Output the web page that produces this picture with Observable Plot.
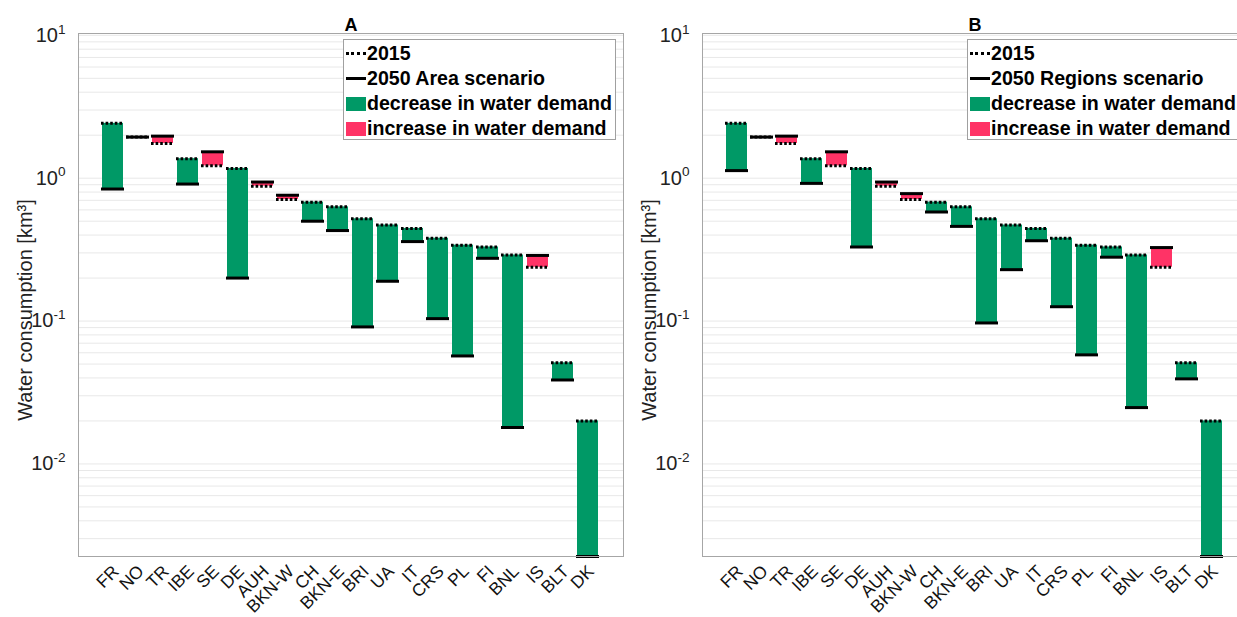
<!DOCTYPE html>
<html>
<head>
<meta charset="utf-8">
<script src="https://cdn.jsdelivr.net/npm/d3@7"></script>
<script src="https://cdn.jsdelivr.net/npm/@observablehq/plot@0.6"></script>
<style>
  html, body { margin: 0; padding: 0; background: #fff; }
  body { width: 1237px; height: 617px; overflow: hidden; position: relative;
         font-family: "Liberation Sans", Arial, sans-serif; }
  .panel { position: absolute; top: 0; width: 630px; height: 617px; }
  .legend { position: absolute; left: 343px; top: 39px; width: 271px; height: 98px;
            border: 1px solid #a0a0a0; background: #fff; padding-top: 1px; }
  .legend .row { display: flex; align-items: center; height: 25px;
                 font-weight: bold; font-size: 19.6px; color: #000; white-space: nowrap; }
  .legend .sym { display: inline-block; width: 20px; margin: 0 1px 0 2px; }
  .legend .dotted { border-top: 3px dotted #000; height: 0; }
  .legend .solid { border-top: 3px solid #000; height: 0; }
  .legend .swatch { height: 14px; }
</style>
</head>
<body>
<div id="panelA" class="panel" style="left:0px"></div>
<div id="panelB" class="panel" style="left:624px"></div>
<script>
// Regions, ordered by 2015 water consumption
const regions = ["FR", "NO", "TR", "IBE", "SE", "DE", "AUH", "BKN-W", "CH", "BKN-E",
                 "BRI", "UA", "IT", "CRS", "PL", "FI", "BNL", "IS", "BLT", "DK"];

// Water consumption [km³]
const demand2015 = [2.42, 1.94, 1.75, 1.37, 1.22, 1.17, 0.88, 0.71, 0.68, 0.63,
                    0.52, 0.47, 0.445, 0.38, 0.34, 0.33, 0.29, 0.238, 0.051, 0.020];
const area2050 = [0.84, 1.94, 1.97, 0.91, 1.53, 0.20, 0.94, 0.76, 0.50, 0.43,
                  0.091, 0.19, 0.36, 0.104, 0.057, 0.275, 0.018, 0.288, 0.0387, 0.00225];
const regions2050 = [1.13, 1.94, 1.97, 0.92, 1.53, 0.33, 0.94, 0.78, 0.58, 0.46,
                     0.097, 0.229, 0.365, 0.126, 0.058, 0.28, 0.0248, 0.327, 0.0394, 0.00225];

// Labelled decades on the log axis
const yTicks = [0.01, 0.1, 1, 10];
const yDomain = [0.00225, 10.3];

const changeKinds = ["decrease", "increase"];
const changeColors = ["#009966", "#ff3366"];
const legendLabels = ["decrease in water demand", "increase in water demand"];

function drawPanel(target, title, scenarioLabel, values) {
  const rows = regions.map((region, i) => ({
    region,
    y2015: demand2015[i],
    y2050: values[i],
    change: values[i] > demand2015[i] ? "increase" : "decrease"
  }));

  const chart = Plot.plot({
    width: 630,
    height: 617,
    marginLeft: 78,
    marginRight: 7,
    marginTop: 33,
    marginBottom: 61,
    style: { fontFamily: "Liberation Sans, Arial, sans-serif", background: "transparent", overflow: "visible", color: "#000" },
    x: { domain: regions, paddingInner: 0.15, paddingOuter: 0.6, label: null, axis: null },
    y: { type: "log", domain: yDomain, label: null },
    color: { domain: changeKinds, range: changeColors },
    marks: [
      Plot.gridY({ ticks: 40, stroke: "#e8e8e8", strokeOpacity: 1 }),
      Plot.barY(rows, { x: "region", y1: "y2015", y2: "y2050", fill: "change" }),
      Plot.tickY(rows, { x: "region", y: "y2050", stroke: "#000", strokeWidth: 3, inset: -1 }),
      Plot.tickY(rows, { x: "region", y: "y2015", stroke: "#000", strokeWidth: 3, strokeDasharray: "2.6,2", inset: -1 }),
      Plot.frame({ stroke: "#a6a6a6" }),
      // Region names, slanted under each bar
      Plot.text(regions, {
        x: d => d, text: d => d, frameAnchor: "bottom", textAnchor: "end", lineAnchor: "middle",
        rotate: -45, dx: 3, dy: 12, fontSize: 17.5, fill: "#111"
      }),
      Plot.axisY(yTicks, {
        tickSize: 0, tickPadding: 13, fontSize: 20, label: null, fill: "#222",
        tickFormat: d => `10^${Math.round(Math.log10(d))}`
      }),
      Plot.text([title], { text: d => d, frameAnchor: "top", dy: -15, fontWeight: "bold", fontSize: 18 }),
      Plot.text(["Water consumption [km³]"], {
        text: d => d, frameAnchor: "left", textAnchor: "middle", dx: -53, dy: 15, rotate: -90,
        fontSize: 20, fill: "#222"
      })
    ]
  });

  // Render decade labels as 10 with a raised exponent
  chart.querySelectorAll('g[aria-label="y-axis tick label"] text').forEach(t => {
    const m = t.textContent.match(/^10\^(-?\d+)$/);
    if (!m) return;
    t.textContent = "10";
    const sup = document.createElementNS("http://www.w3.org/2000/svg", "tspan");
    sup.setAttribute("dy", "-0.6em");
    sup.setAttribute("font-size", "0.68em");
    sup.textContent = m[1];
    t.appendChild(sup);
  });

  target.appendChild(chart);

  // Legend box inside the plot area
  const legend = document.createElement("div");
  legend.className = "legend";
  const entries = [
    { cls: "sym dotted", style: "", text: "2015" },
    { cls: "sym solid", style: "", text: scenarioLabel },
    { cls: "sym swatch", style: `background:${changeColors[0]}`, text: legendLabels[0] },
    { cls: "sym swatch", style: `background:${changeColors[1]}`, text: legendLabels[1] }
  ];
  for (const e of entries) {
    const row = document.createElement("div");
    row.className = "row";
    const sym = document.createElement("span");
    sym.className = e.cls;
    if (e.style) sym.setAttribute("style", e.style);
    row.appendChild(sym);
    row.appendChild(document.createTextNode(e.text));
    legend.appendChild(row);
  }
  target.appendChild(legend);
}

drawPanel(document.getElementById("panelA"), "A", "2050 Area scenario", area2050);
drawPanel(document.getElementById("panelB"), "B", "2050 Regions scenario", regions2050);
</script>
</body>
</html>
